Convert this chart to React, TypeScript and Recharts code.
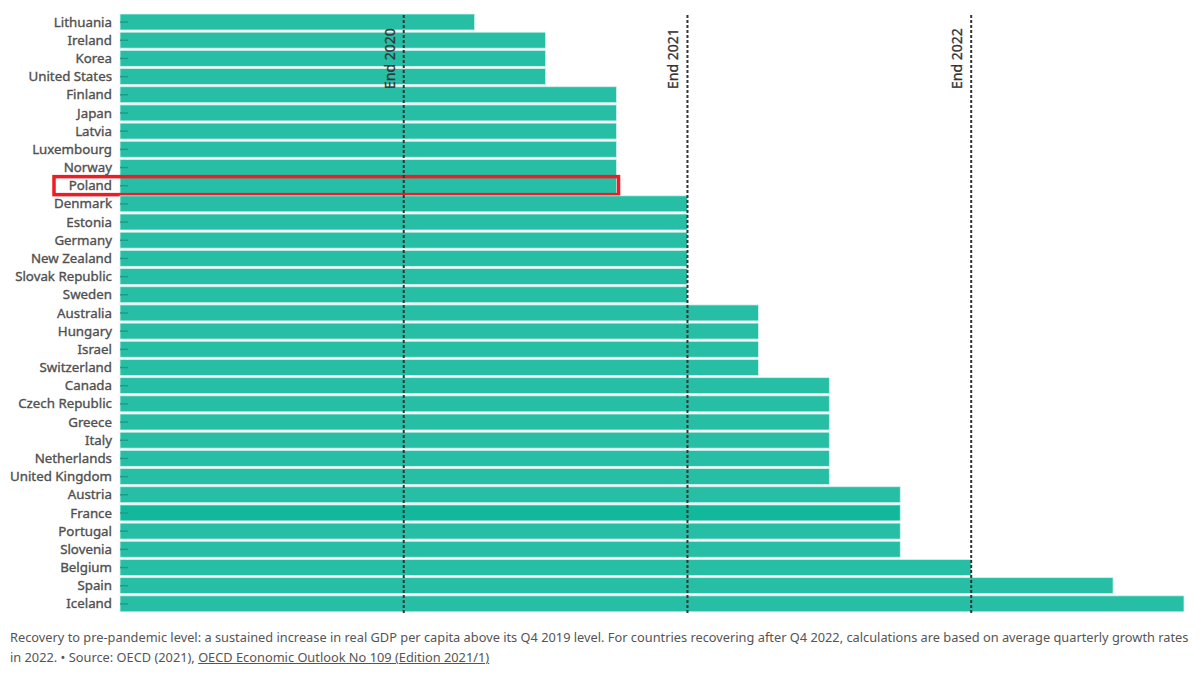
import { BarChart, Bar, XAxis, YAxis, ReferenceLine, Cell } from 'recharts'

const countries = [
  'Lithuania', 'Ireland', 'Korea', 'United States', 'Finland', 'Japan', 'Latvia',
  'Luxembourg', 'Norway', 'Poland', 'Denmark', 'Estonia', 'Germany', 'New Zealand',
  'Slovak Republic', 'Sweden', 'Australia', 'Hungary', 'Israel', 'Switzerland',
  'Canada', 'Czech Republic', 'Greece', 'Italy', 'Netherlands', 'United Kingdom',
  'Austria', 'France', 'Portugal', 'Slovenia', 'Belgium', 'Spain', 'Iceland',
]

// quarters after Q4 2019 until recovery
const quarters = [
  5, 6, 6, 6, 7, 7, 7, 7, 7, 7, 8, 8, 8, 8, 8, 8, 9, 9, 9, 9,
  10, 10, 10, 10, 10, 10, 11, 11, 11, 11, 12, 14, 15,
]

const markers = [
  { q: 4, label: 'End 2020' },
  { q: 8, label: 'End 2021' },
  { q: 12, label: 'End 2022' },
]

const highlighted = 'Poland'
const hovered = 'France'

const data = countries.map((c, i) => ({ country: c, q: quarters[i] }))

const FONT = '"Noto Sans", "Open Sans", sans-serif'

function CountryTick({ x, y, payload }: any) {
  return (
    <g>
      <line x1={x + 8} x2={x + 16} y1={y} y2={y} stroke="#1c9c86" strokeWidth={1.5} />
      <text
        x={x}
        y={y}
        dy={4.5}
        textAnchor="end"
        fontFamily={FONT}
        fontSize={13.3}
        fill="#505050"
        stroke="#505050"
        strokeWidth={0.35}
      >
        {payload.value}
      </text>
    </g>
  )
}

function BarShape(props: any) {
  const { x, y, width, height, fill, payload } = props
  return (
    <g>
      <rect x={x} y={y} width={width} height={height} fill={fill} stroke="#d4f2ec" strokeWidth={0.8} />
      {payload.country === highlighted && (
        <rect x={x - 66} y={y - 1} width={width + 66 + 2} height={height + 2} fill="none" stroke="#ee1c25" strokeWidth={3.5} />
      )}
    </g>
  )
}

function MarkerLabel({ viewBox, value }: any) {
  const x = viewBox.x - 9
  const y = viewBox.y + 76
  return (
    <text
      x={x}
      y={y}
      transform={`rotate(-90 ${x} ${y})`}
      fontFamily={FONT}
      fontSize={14}
      fill="#333"
      stroke="#333"
      strokeWidth={0.3}
    >
      {value}
    </text>
  )
}

export default function App() {
  return (
    <div style={{ position: 'absolute', left: 0, top: 0, width: 1202, height: 676, background: '#fff' }}>
      <BarChart
        width={1202}
        height={620}
        data={data}
        layout="vertical"
        margin={{ top: 13, right: 18, bottom: 7, left: 0 }}
        barCategoryGap={1}
      >
        <XAxis type="number" domain={[0, 15]} hide />
        <YAxis
          type="category"
          dataKey="country"
          width={120}
          axisLine={false}
          tickLine={false}
          tick={<CountryTick />}
          interval={0}
        />
        <Bar dataKey="q" isAnimationActive={false} shape={<BarShape />}>
          {data.map((d) => (
            <Cell key={d.country} fill={d.country === hovered ? '#12b89c' : '#26bfa6'} />
          ))}
        </Bar>
        {markers.map((m) => (
          <ReferenceLine
            key={m.label}
            x={m.q}
            stroke="#333"
            strokeWidth={2}
            strokeDasharray="3 2"
            label={<MarkerLabel value={m.label} />}
          />
        ))}
      </BarChart>
      <div
        style={{
          position: 'absolute',
          left: 10,
          top: 627,
          width: 1182,
          fontFamily: FONT,
          fontSize: 12.8,
          lineHeight: '20px',
          color: '#555',
        }}
      >
        Recovery to pre-pandemic level: a sustained increase in real GDP per capita above its Q4 2019 level. For
        countries recovering after Q4 2022, calculations are based on average quarterly growth rates in 2022. •
        Source: OECD (2021), <span style={{ textDecoration: 'underline' }}>OECD Economic Outlook No 109 (Edition 2021/1)</span>
      </div>
    </div>
  )
}
